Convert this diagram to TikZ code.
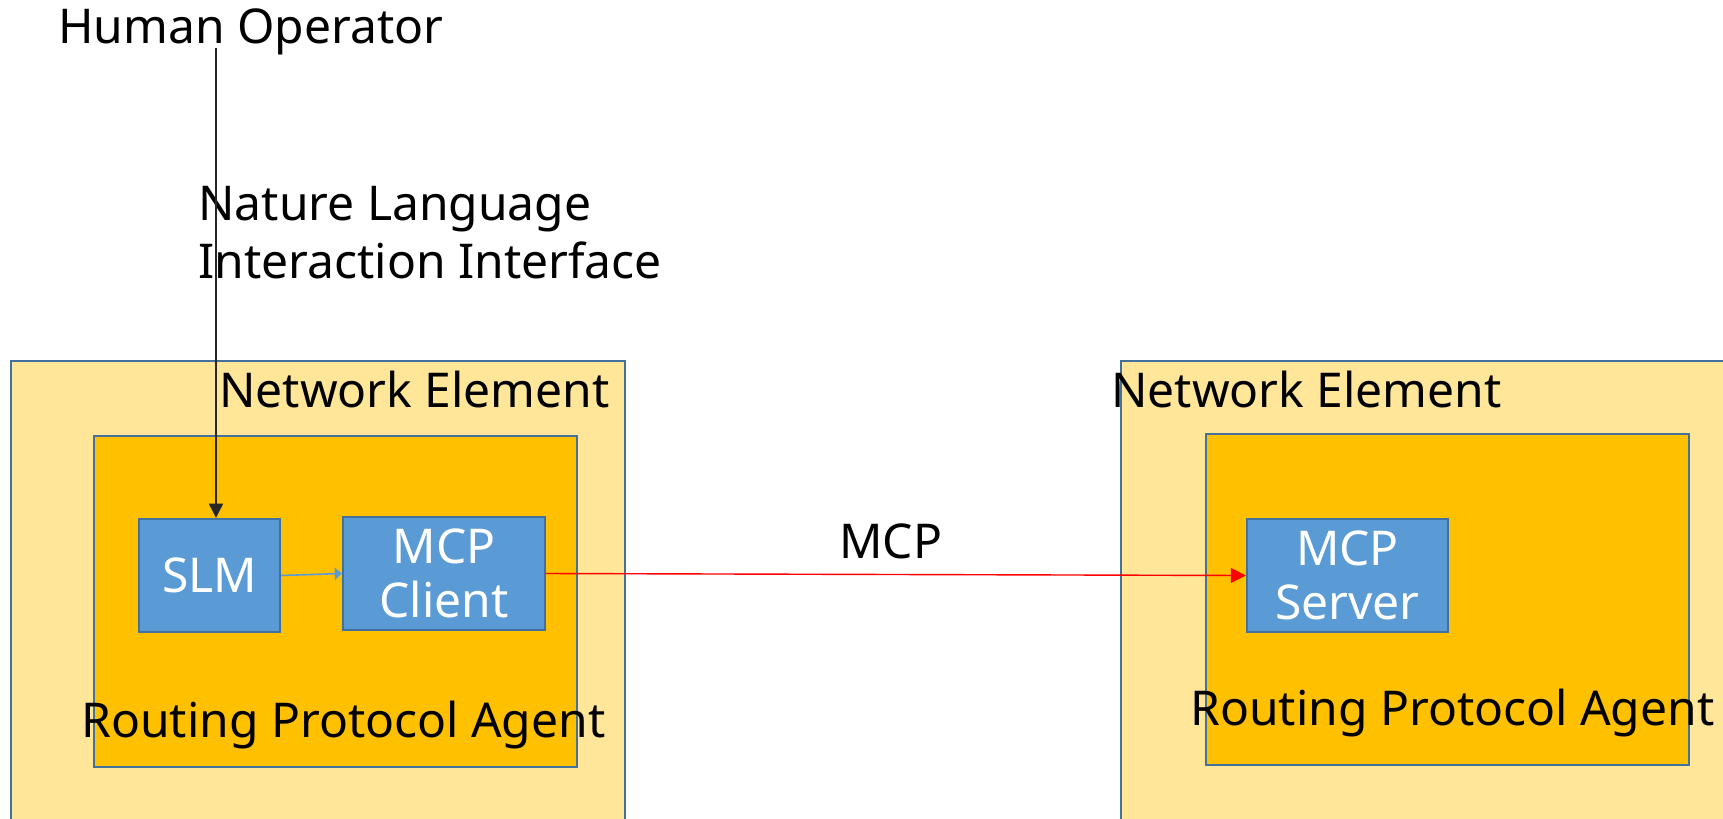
\documentclass[tikz,border=0pt]{standalone}
\usepackage{fontspec}
\setmainfont{Noto Sans}
\usetikzlibrary{arrows.meta}

\definecolor{neyellow}{HTML}{FFE699}
\definecolor{agentorange}{HTML}{FFC000}
\definecolor{funcblue}{HTML}{5B9BD5}
\definecolor{edgeblue}{HTML}{41719C}

\begin{document}
\begin{tikzpicture}[x=0.02cm, y=-0.02cm, font=\fontsize{27.3pt}{33pt}\selectfont,
    ne box/.style={draw=edgeblue, line width=1.4pt, fill=neyellow},
    agent box/.style={draw=edgeblue, line width=1.4pt, fill=agentorange},
    func node/.style={draw=edgeblue, line width=1.4pt, fill=funcblue, text=white, align=center,
        inner sep=0pt, minimum height=2.26cm, font=\fontsize{27.3pt}{31pt}\selectfont},
    label node/.style={anchor=base west, inner sep=0pt, align=left}]
\useasboundingbox (0,0) rectangle (1723,818);

% network elements with their agents
\draw[ne box] (11,361) rectangle (625,840);
\draw[agent box] (94,436) rectangle (577,767);
\draw[ne box] (1121,361) rectangle (1750,840);
\draw[agent box] (1206,434) rectangle (1689,765);

\node[func node, minimum width=2.82cm] (slm) at (209.5,575.5) {SLM};
\node[func node, minimum width=4.04cm] (client) at (444,573.5) {MCP\\Client};
\node[func node, minimum width=4.02cm] (server) at (1347.5,575.5) {MCP\\Server};

\node[label node] (op) at (58,43) {Human Operator};
% base of a two-line label sits on its last line
\node[label node] (nlii) at (198,278) {Nature Language\\Interaction Interface};
\node[label node] (neleft) at (219,407) {Network Element};
\node[label node] (neright) at (1111,407) {Network Element};
\node[label node] (rpaleft) at (81,737) {Routing Protocol Agent};
\node[label node] (rparight) at (1190,725) {Routing Protocol Agent};
\node[label node] (mcp) at (839,558) {MCP};

% links
\coordinate (opfoot) at (216,48);
\draw[black!85, line width=0.7pt, -{Triangle[width=8pt,length=8pt]}] (opfoot) -- (opfoot |- slm.north);
\draw[funcblue, line width=0.9pt, -{Triangle[width=7pt,length=4pt]}] (slm.east) -- (client.west);
\draw[red, line width=0.8pt, -{Triangle[width=8.5pt,length=8.5pt]}] (client.east) -- (server.west);
\end{tikzpicture}
\end{document}
